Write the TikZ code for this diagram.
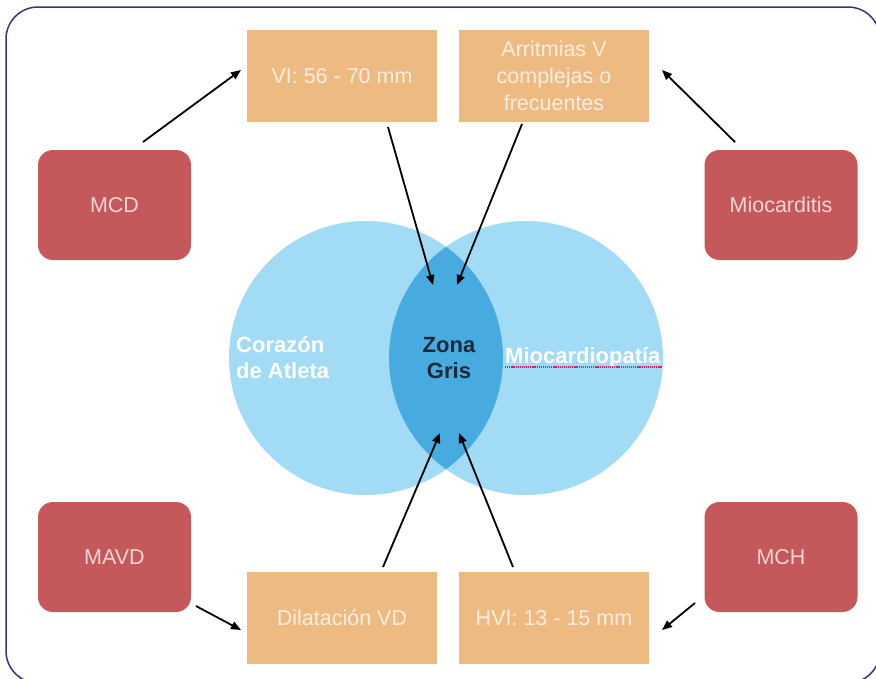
\documentclass[tikz,border=0pt]{standalone}
\usepackage{fontspec}
\setmainfont{Liberation Sans}
\usetikzlibrary{arrows.meta}
\definecolor{frameblue}{HTML}{34347F}
\definecolor{orangebox}{HTML}{EDBB82}
\definecolor{redbox}{HTML}{C4585A}
\definecolor{lightblue}{HTML}{A2DBF6}
\definecolor{lensblue}{HTML}{47ABE0}
\definecolor{darktext}{HTML}{1B2A3A}
\definecolor{spellred}{HTML}{E0205A}
\begin{document}
\begin{tikzpicture}[x=1pt,y=-1pt,
  obox/.style={fill=orangebox, draw=none, minimum width=190pt, minimum height=92pt,
    inner sep=0pt, text=white, text opacity=0.75, align=center,
    font=\fontsize{21.5}{27}\selectfont},
  rbox/.style={fill=redbox, draw=none, rounded corners=15pt, minimum width=153pt,
    minimum height=110pt, inner sep=0pt, text=white, text opacity=0.75,
    font=\fontsize{21.5}{25}\selectfont},
  biglabel/.style={font=\bfseries\fontsize{22}{26}\selectfont, align=left, inner sep=0pt},
  arr/.style={-{Triangle[length=10pt,width=8pt]}, line width=1.8pt, black}]
\useasboundingbox (0,0) rectangle (876,678);
\begin{scope}
\clip (0,0) rectangle (876,678);
\draw[frameblue, line width=1.5pt, rounded corners=32pt] (6,7) rectangle (880,683);
\end{scope}

% Venn circles
\fill[lightblue] (366,358) circle (137pt);
\fill[lightblue] (526,358) circle (137pt);
\begin{scope}
\clip (366,358) circle (137pt);
\fill[lensblue] (526,358) circle (137pt);
\end{scope}

% labels
\node[biglabel, text=white, anchor=west] (atleta) at (236,358) {Corazón\\de Atleta};
\node[biglabel, text=darktext, align=center] (zona) at (449,358) {Zona\\Gris};
\node[biglabel, text=white, anchor=base west] (mio) at (505,363) {Miocardiopatía};
\draw[spellred, line width=1.3pt, dash pattern=on 1.2pt off 0.9pt] (mio.base west) ++(0,4) coordinate (ulA) -- ++(157,0) coordinate (ulB);

% orange boxes
\node[obox] (vi) at (342,76) {VI: 56 - 70 mm};
\node[obox] (arr) at (554,76) {Arritmias V\\complejas o\\frecuentes};
\node[obox] (dil) at (342,618) {Dilatación VD};
\node[obox] (hvi) at (554,618) {HVI: 13 - 15 mm};

% red boxes
\node[rbox] (mcd) at (114.5,205) {MCD};
\node[rbox] (mioc) at (781,205) {Miocarditis};
\node[rbox] (mavd) at (114.5,557) {MAVD};
\node[rbox] (mch) at (781,557) {MCH};

% arrow end points
\coordinate (s1) at (143,142); \coordinate (t1) at (241,70);
\coordinate (s2) at (735,142); \coordinate (t2) at (662,70);
\coordinate (s3) at (196,606); \coordinate (t3) at (241,630);
\coordinate (s4) at (695,603); \coordinate (t4) at (662,630);
\coordinate (s5) at (388,127); \coordinate (t5) at (433,285);
\coordinate (s6) at (522,124); \coordinate (t6) at (457,285);
\coordinate (s7) at (383,567); \coordinate (t7) at (440,433);
\coordinate (s8) at (513,567); \coordinate (t8) at (459,433);

\draw[arr] (s1) -- (t1);
\draw[arr] (s2) -- (t2);
\draw[arr] (s3) -- (t3);
\draw[arr] (s4) -- (t4);
\draw[arr] (s5) -- (t5);
\draw[arr] (s6) -- (t6);
\draw[arr] (s7) -- (t7);
\draw[arr] (s8) -- (t8);
\end{tikzpicture}
\end{document}
